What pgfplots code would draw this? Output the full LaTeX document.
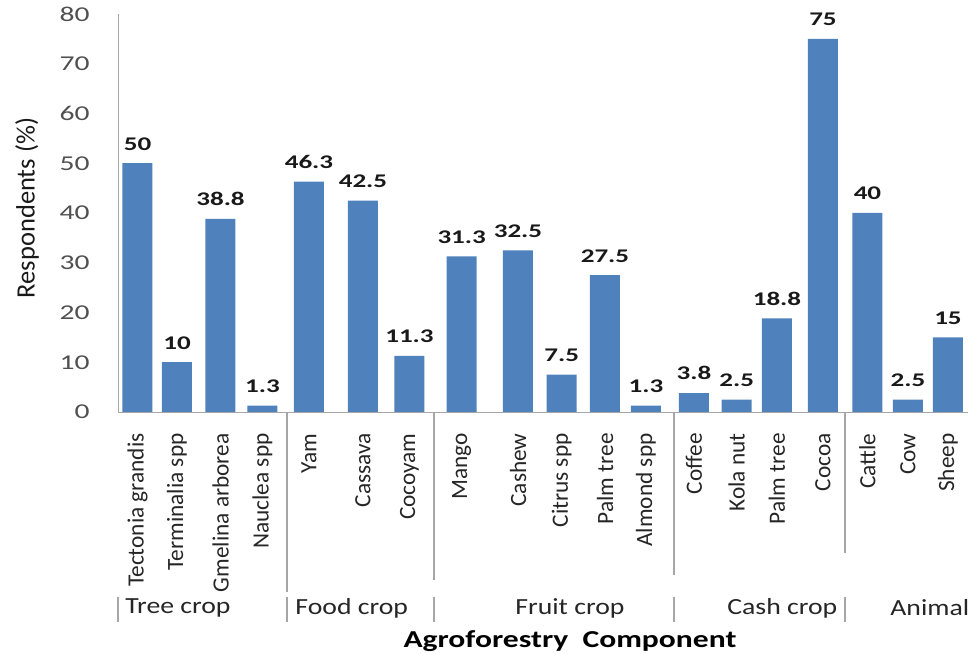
\documentclass[border=0pt]{standalone}
\usepackage{pgfplots}
\pgfplotsset{compat=1.18}
\usepackage{fontspec}
\setmainfont{Carlito}
\newfontfamily\tickfont[FakeStretch=1.4]{Carlito}
\newfontfamily\grpfont[FakeStretch=1.2]{Carlito}
\newfontfamily\titfont[FakeStretch=1.3]{Carlito}
\definecolor{barblue}{HTML}{4F81BD}
\definecolor{ticktext}{HTML}{505050}
\definecolor{sepgray}{HTML}{A6A6A6}
\begin{document}
\begin{tikzpicture}
\path[use as bounding box] (0,0) rectangle (486bp,327bp);
\begin{axis}[
  at={(59bp,121bp)}, anchor=south west,
  width=425bp, height=199bp, scale only axis,
  xmin=118, xmax=968, ymin=0, ymax=80,
  clip=false,
  axis x line*=bottom, axis y line*=left,
  axis line style={draw=sepgray, -},
  major tick length=0pt,
  ytick={0,10,...,80},
  xtick={137.5,177,220.5,262.5,309,363,409.5,461.7,518,561.7,605,646,694,736.7,777,823,867.5,908,948},
  xticklabels={Tectonia grandis,Terminalia spp,Gmelina arborea,Nauclea spp,Yam,Cassava,Cocoyam,Mango,Cashew,Citrus spp,Palm tree,Almond spp,Coffee,Kola nut,Palm tree,Cocoa,Cattle,Cow,Sheep},
  /pgf/number format/assume math mode=true,
  yticklabel style={font=\tickfont\fontsize{10.6}{12}\selectfont, text=ticktext, anchor=east, inner sep=0pt, xshift=-14bp},
  xticklabel style={font=\fontsize{11.7}{13}\selectfont, text=black!85, yshift=-10.5bp, rotate=90, anchor=east, inner sep=0pt},
  ybar, bar width=30,
  nodes near coords,
  nodes near coords style={font=\tickfont\bfseries\fontsize{9.7}{11}\selectfont, text=black!90, anchor=south, yshift=3bp,
    /pgf/number format/fixed, /pgf/number format/precision=1},
]
\addplot[fill=barblue, draw=none] coordinates {
  (137.5,50) (177,10) (220.5,38.8) (262.5,1.3)
  (309,46.3) (363,42.5) (409.5,11.3)
  (461.7,31.3) (518,32.5) (561.7,7.5) (605,27.5) (646,1.3)
  (694,3.8) (736.7,2.5) (777,18.8) (823,75)
  (867.5,40) (908,2.5) (948,15)
};
\end{axis}
% group separators
\draw[sepgray, line width=0.6pt] (143.5bp,121bp) -- (143.5bp,31bp);
\draw[sepgray, line width=0.6pt] (217bp,121bp) -- (217bp,37bp);
\draw[sepgray, line width=0.6pt] (337bp,121bp) -- (337bp,39.5bp);
\draw[sepgray, line width=0.6pt] (422.5bp,121bp) -- (422.5bp,50.5bp);
\foreach \x in {59,143.5,217,337,422.5}{
  \draw[sepgray, line width=0.6pt] (\x bp,28.5bp) -- (\x bp,16bp);
}
\node[anchor=west, inner sep=0pt, font=\grpfont\fontsize{11.6}{13}\selectfont, text=black!85] at (62.5bp,23bp) {Tree crop};
\node[anchor=west, inner sep=0pt, font=\grpfont\fontsize{11.6}{13}\selectfont, text=black!85] at (147.5bp,23bp) {Food crop};
\node[anchor=west, inner sep=0pt, font=\grpfont\fontsize{11.6}{13}\selectfont, text=black!85] at (257.5bp,23bp) {Fruit crop};
\node[anchor=west, inner sep=0pt, font=\grpfont\fontsize{11.6}{13}\selectfont, text=black!85] at (363.5bp,23bp) {Cash crop};
\node[anchor=west, inner sep=0pt, font=\grpfont\fontsize{11.6}{13}\selectfont, text=black!85] at (445bp,23bp) {Animal};
\node[inner sep=0pt, font=\titfont\bfseries\fontsize{12.2}{14}\selectfont] at (285bp,6.5bp) {Agroforestry\ \ Component};
\node[rotate=90, inner sep=0pt, font=\fontsize{13.3}{15}\selectfont, text=black!90] at (13.5bp,223bp) {Respondents (\%)};
\end{tikzpicture}
\end{document}
